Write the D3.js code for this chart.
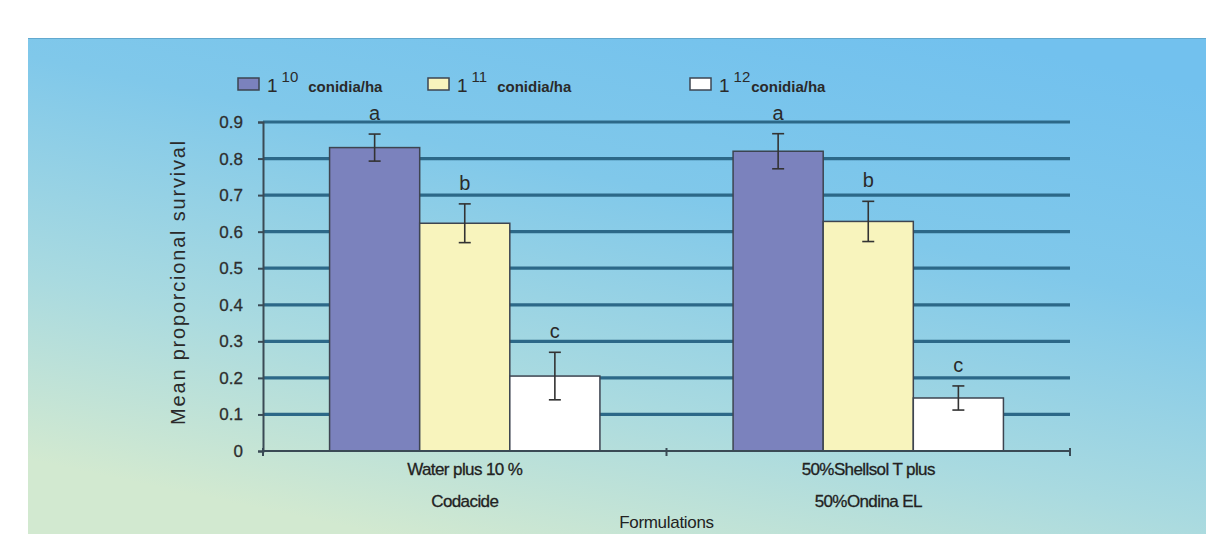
<!DOCTYPE html>
<html>
<head>
<meta charset="utf-8">
<script src="https://cdn.jsdelivr.net/npm/d3@7"></script>
<style>
  html, body { margin: 0; padding: 0; background: #ffffff; }
  svg { display: block; }
  text { font-family: "Liberation Sans", Arial, sans-serif; }
</style>
</head>
<body>
<svg id="chart" width="1206" height="534"></svg>
<script>
// Formulations (two-line category labels)
const categories = ["Water plus 10 %|Codacide", "50%Shellsol T plus|50%Ondina EL"];
// Dose series (exponent for 1^x conidia/ha)
const seriesExp = ["10", "11", "12"];
const seriesColors = ["#7b82bd", "#f8f4bd", "#ffffff"];
// Mean proportional survival per formulation, one array per dose
const dose10 = [0.83, 0.82];
const dose11 = [0.623, 0.628];
const dose12 = [0.205, 0.145];
// Half-width of error bars
const err10 = [0.037, 0.048];
const err11 = [0.053, 0.055];
const err12 = [0.065, 0.033];
// Significance letters
const letters10 = ["a", "a"];
const letters11 = ["b", "b"];
const letters12 = ["c", "c"];
const yTicks = [0, 0.1, 0.2, 0.3, 0.4, 0.5, 0.6, 0.7, 0.8, 0.9];

const values = [dose10, dose11, dose12];
const errors = [err10, err11, err12];
const letters = [letters10, letters11, letters12];

const svg = d3.select("#chart");

// Background panel with a sky-to-mint gradient
const defs = svg.append("defs");
const grad = defs.append("linearGradient").attr("id", "bg")
  .attr("x1", "0.8").attr("y1", "0").attr("x2", "0.3").attr("y2", "1");
grad.append("stop").attr("offset", "0").attr("stop-color", "#72c1ee");
grad.append("stop").attr("offset", "0.35").attr("stop-color", "#80c8ea");
grad.append("stop").attr("offset", "0.7").attr("stop-color", "#a9dae0");
grad.append("stop").attr("offset", "1").attr("stop-color", "#d2e9d0");
svg.append("rect").attr("x", 28).attr("y", 38).attr("width", 1178).attr("height", 496)
  .attr("fill", "url(#bg)");
svg.append("line").attr("x1", 28).attr("x2", 1206).attr("y1", 38.5).attr("y2", 38.5)
  .attr("stroke", "#62a9cf").attr("stroke-width", 1);

const plot = { left: 263, right: 1070, top: 122, bottom: 451 };

const y = d3.scaleLinear().domain([0, 0.9]).range([plot.bottom, plot.top]);
const x0 = d3.scaleBand().domain(categories).range([plot.left, plot.right])
  .paddingInner(0.33).paddingOuter(0.165);
const x1 = d3.scaleBand().domain(seriesExp).range([0, x0.bandwidth()]).padding(0);

// Horizontal gridlines
svg.append("g").selectAll("line").data(yTicks.slice(1)).join("line")
  .attr("x1", plot.left).attr("x2", plot.right)
  .attr("y1", d => y(d)).attr("y2", d => y(d))
  .attr("stroke", "#2c6888").attr("stroke-width", 3.2);

// Y axis
const yAxis = svg.append("g").attr("transform", `translate(${plot.left},0)`)
  .call(d3.axisLeft(y).tickValues(yTicks).tickSize(5).tickPadding(15)
    .tickFormat(d => d === 0 ? "0" : d3.format(".1f")(d)));
yAxis.select(".domain").attr("stroke", "#3a4a55").attr("stroke-width", 2);
yAxis.selectAll(".tick line").attr("stroke", "#3a4a55").attr("stroke-width", 2);
yAxis.selectAll(".tick text").attr("fill", "#2e2e2e").style("font-size", "17px")
  .attr("stroke", "#2e2e2e").attr("stroke-width", 0.3)
  .style("font-family", "'Liberation Sans', Arial, sans-serif");

// Bars
const groups = svg.append("g").selectAll("g").data(categories).join("g")
  .attr("transform", d => `translate(${x0(d)},0)`);

groups.each(function(cat, ci) {
  const g = d3.select(this);
  seriesExp.forEach((s, si) => {
    const v = values[si][ci];
    const e = errors[si][ci];
    const bx = x1(s);
    const bw = x1.bandwidth();
    g.append("rect")
      .attr("x", bx).attr("y", y(v))
      .attr("width", bw).attr("height", y(0) - y(v))
      .attr("fill", seriesColors[si]).attr("stroke", "#3d4450").attr("stroke-width", 1.5);
    const cx = bx + bw / 2;
    g.append("line").attr("x1", cx).attr("x2", cx)
      .attr("y1", y(v + e)).attr("y2", y(v - e))
      .attr("stroke", "#333").attr("stroke-width", 1.6);
    [v + e, v - e].forEach(t => {
      g.append("line").attr("x1", cx - 6).attr("x2", cx + 6)
        .attr("y1", y(t)).attr("y2", y(t))
        .attr("stroke", "#333").attr("stroke-width", 1.6);
    });
    g.append("text").attr("x", cx).attr("y", y(v + e) - 14)
      .attr("text-anchor", "middle").attr("fill", "#2a2a2a")
      .style("font-size", "20px").text(letters[si][ci]);
  });
});

// X axis line with category dividers
const xAxis = svg.append("g").attr("transform", `translate(0,${plot.bottom})`);
xAxis.append("line").attr("x1", plot.left).attr("x2", plot.right)
  .attr("stroke", "#3a4a55").attr("stroke-width", 2);
const dividers = [plot.left, (x0(categories[0]) + x0.bandwidth() + x0(categories[1])) / 2, plot.right];
xAxis.selectAll("line.tk").data(dividers).join("line").attr("class", "tk")
  .attr("x1", d => d).attr("x2", d => d).attr("y1", -3).attr("y2", 5)
  .attr("stroke", "#3a4a55").attr("stroke-width", 2);

// Category labels (two lines each)
categories.forEach(c => {
  const cx = x0(c) + x0.bandwidth() / 2;
  c.split("|").forEach((line, i) => {
    svg.append("text").attr("x", cx).attr("y", 475 + i * 32)
      .attr("text-anchor", "middle").attr("fill", "#222")
      .style("font-size", "17px").style("letter-spacing", "-0.6px")
      .attr("stroke", "#222").attr("stroke-width", 0.3)
      .text(line);
  });
});

// Axis titles
svg.append("text").attr("x", (plot.left + plot.right) / 2).attr("y", 528)
  .attr("text-anchor", "middle").attr("fill", "#222")
  .style("font-size", "17px").style("letter-spacing", "-0.3px").text("Formulations");
svg.append("text")
  .attr("transform", `translate(185,282) rotate(-90)`)
  .attr("text-anchor", "middle").attr("fill", "#2a2a2a")
  .style("font-size", "20px").style("letter-spacing", "1.8px")
  .text("Mean proporcional survival");

// Legend
const legendX = [238, 428, 690];
seriesExp.forEach((s, i) => {
  const lg = svg.append("g").attr("transform", `translate(${legendX[i]},77)`);
  lg.append("rect").attr("x", 0).attr("y", 1).attr("width", 21).attr("height", 12)
    .attr("fill", seriesColors[i]).attr("stroke", "#3d4450").attr("stroke-width", 1.5);
  const t = lg.append("text").attr("x", 29).attr("y", 15).attr("fill", "#2a2a2a")
    .style("font-size", "19px");
  t.append("tspan").text("1");
  t.append("tspan").attr("dx", 4).attr("dy", -10).style("font-size", "15px").text(s);
  t.append("tspan").attr("dx", i === 2 ? 1 : 10).attr("dy", 10)
    .style("font-size", "15px").style("font-weight", "bold").text("conidia/ha");
});
</script>
</body>
</html>
